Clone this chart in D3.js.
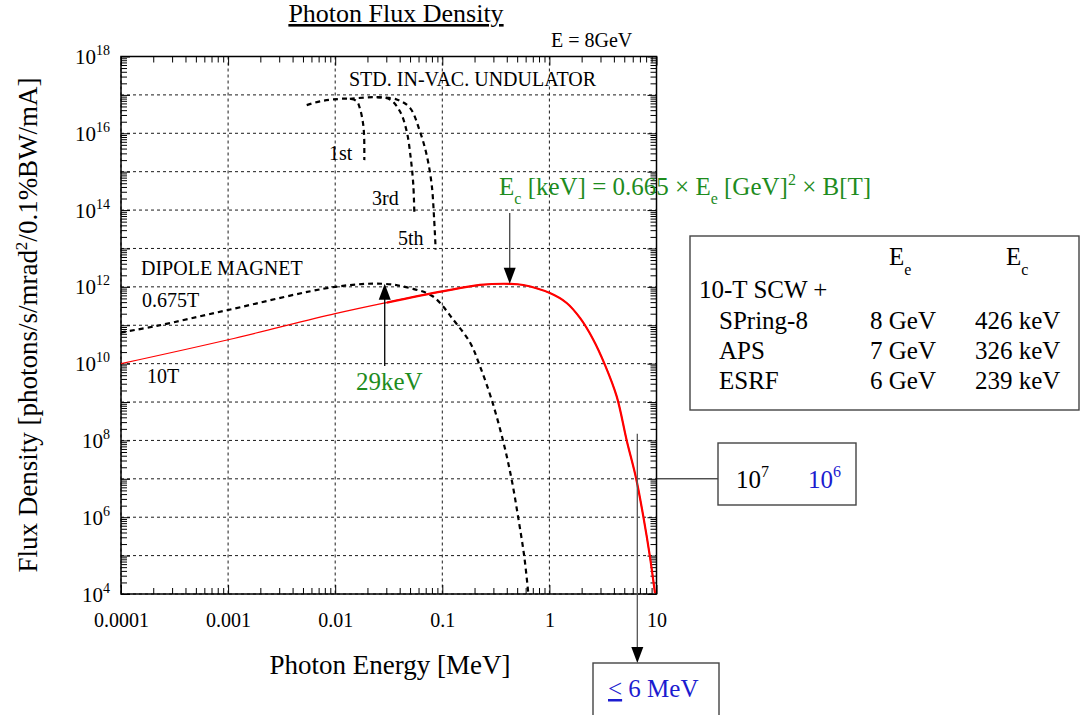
<!DOCTYPE html>
<html>
<head>
<meta charset="UTF-8">
<script src="https://d3js.org/d3.v7.min.js"></script>
<style>
  body { margin: 0; background: #fff; }
  text { font-family: "Liberation Serif", "Times New Roman", serif; }
</style>
</head>
<body>
<script>
    // photon energy [MeV] / flux density
    var scwEnergy = [0.0001, 0.001, 0.01, 0.0303, 0.1, 0.225, 0.428, 0.57, 1.01, 1.45, 1.93, 2.57, 3.30, 4.25, 5.27, 6.44, 7.53, 8.69, 9.68];
    var scwFlux = [1.0e10, 4.2e10, 2.0e11, 3.9e11, 7.6e11, 1.12e12, 1.2e12, 1.12e12, 6.9e11, 3.8e11, 1.55e11, 4.2e10, 9.3e9, 1.4e9, 1.0e8, 1.05e7, 1.05e6, 9.3e4, 1.05e4];

    var dipoleEnergy = [0.0001, 0.000215, 0.001, 0.01, 0.028, 0.05, 0.082, 0.127, 0.182, 0.225, 0.289, 0.371, 0.445, 0.513, 0.583, 0.635];
    var dipoleFlux = [6.5e10, 9.6e10, 2.5e11, 1.0e12, 1.2e12, 9.3e11, 5.6e11, 1.38e11, 3.5e10, 8.5e9, 1.15e9, 9.3e7, 9.3e6, 9.3e5, 9.3e4, 1.05e4];

    var und1Energy = [0.00542, 0.00721, 0.00959, 0.0137, 0.0159, 0.0171, 0.0181, 0.0186, 0.0187];
    var und1Flux = [5.4e16, 6.8e16, 7.6e16, 7.9e16, 6.8e16, 4.2e16, 2.0e16, 9.3e15, 2.0e15];
    var und3Energy = [0.0137, 0.0244, 0.0325, 0.0403, 0.0466, 0.0507, 0.0536, 0.0548];
    var und3Flux = [7.9e16, 8.7e16, 7.6e16, 3.7e16, 1.1e16, 2.3e15, 4.6e14, 8.3e13];
    var und5Energy = [0.0244, 0.0375, 0.0499, 0.0619, 0.0714, 0.0796, 0.0838, 0.0867];
    var und5Flux = [8.7e16, 7.6e16, 4.6e16, 1.1e16, 2.75e15, 4.6e14, 6.2e13, 9.3e12];

    var xTickValues = [0.0001, 0.001, 0.01, 0.1, 1, 10];
    var xTickLabels = ["0.0001", "0.001", "0.01", "0.1", "1", "10"];
    var yTickExps = [4, 6, 8, 10, 12, 14, 16, 18];

    var rings = ["SPring-8", "APS", "ESRF"];
    var ringEe = ["8 GeV", "7 GeV", "6 GeV"];
    var ringEc = ["426 keV", "326 keV", "239 keV"];

    var ecPeak = [0.426, 1.2e12];      // critical energy of 10T SCW
    var dipPeak = [0.029, 1.2e12];     // 29 keV
    var cutEnergy = 6.62;             // where 10T curve meets 1e7

    var width = 1082, height = 715;
    var pL = 121, pR = 656.5, pT = 56.5, pB = 594;
    var green = "#1e8c1e", blue = "#1c1cd0";

    var svg = d3.select("body").append("svg")
        .attr("width", width)
        .attr("height", height);

    var x = d3.scaleLog().domain([1e-4, 10]).range([pL, pR]);
    var y = d3.scaleLog().domain([1e4, 1e18]).range([pB, pT]);

    function logTicks(lo, hi) {
        var t = [];
        for (var d = lo; d < hi; d++)
            for (var m = 1; m < 10; m++) t.push(m * Math.pow(10, d));
        t.push(Math.pow(10, hi));
        return t;
    }
    function isMajor(d) {
        var l = Math.log10(d);
        return Math.abs(l - Math.round(l)) < 1e-9;
    }
    var xTicks = logTicks(-4, 1), yTicks = logTicks(4, 18);

    // grid
    var grid = svg.append("g").attr("stroke", "#000").attr("stroke-width", 0.9).attr("stroke-dasharray", "3,3");
    grid.selectAll(".gx").data(xTicks.filter(isMajor)).enter().append("line")
        .attr("x1", d => x(d)).attr("x2", d => x(d)).attr("y1", pT).attr("y2", pB);
    grid.selectAll(".gy").data(yTicks.filter(isMajor)).enter().append("line")
        .attr("y1", d => y(d)).attr("y2", d => y(d)).attr("x1", pL).attr("x2", pR);

    // axes, ticks pointing inward
    var gB = svg.append("g").attr("transform", "translate(0," + pB + ")")
        .call(d3.axisBottom(x).tickValues(xTicks).tickSizeInner(0).tickSizeOuter(0)
            .tickFormat(function (d) {
                var i = xTickValues.findIndex(v => Math.abs(v - d) / d < 1e-9);
                return i >= 0 ? xTickLabels[i] : "";
            }));
    gB.selectAll(".tick text").attr("y", 19).attr("font-size", 20).attr("fill", "#000");
    gB.selectAll(".tick line").attr("y2", d => isMajor(d) ? -9 : -6);

    var gT = svg.append("g").attr("transform", "translate(0," + pT + ")")
        .call(d3.axisTop(x).tickValues(xTicks).tickSizeInner(0).tickSizeOuter(0).tickFormat(""));
    gT.selectAll(".tick line").attr("y2", d => isMajor(d) ? 9 : 6);

    var gL = svg.append("g").attr("transform", "translate(" + pL + ",0)")
        .call(d3.axisLeft(y).tickValues(yTicks).tickSizeInner(0).tickSizeOuter(0).tickPadding(11).tickFormat(""));
    gL.selectAll(".tick line").attr("x2", d => isMajor(d) ? 9 : 6);
    gL.selectAll(".tick text").each(function (d) {
        var e = Math.round(Math.log10(d));
        var t = d3.select(this).attr("dy", 7).attr("font-size", 21).attr("fill", "#000");
        if (!isMajor(d) || yTickExps.indexOf(e) < 0) return;
        t.append("tspan").text("10");
        t.append("tspan").attr("dy", -9).attr("font-size", 14).text(e);
    });

    var gR = svg.append("g").attr("transform", "translate(" + pR + ",0)")
        .call(d3.axisRight(y).tickValues(yTicks).tickSizeInner(0).tickSizeOuter(0).tickFormat(""));
    gR.selectAll(".tick line").attr("x2", d => isMajor(d) ? -9 : -6);

    svg.selectAll(".domain").remove();
    svg.selectAll(".tick line").attr("stroke", "#000").attr("stroke-width", 1);

    svg.append("rect").attr("x", pL).attr("y", pT)
        .attr("width", pR - pL).attr("height", pB - pT)
        .attr("fill", "none").attr("stroke", "#000").attr("stroke-width", 1.5);

    // curves
    svg.append("clipPath").attr("id", "plot").append("rect")
        .attr("x", pL).attr("y", pT).attr("width", pR - pL).attr("height", pB - pT);
    var curves = svg.append("g").attr("clip-path", "url(#plot)");

    var line = d3.line().x(d => x(d[0])).y(d => y(d[1])).curve(d3.curveCatmullRom.alpha(0.5));
    function pairs(e, f) { return e.map((v, i) => [v, f[i]]); }

    [[und1Energy, und1Flux], [und3Energy, und3Flux], [und5Energy, und5Flux], [dipoleEnergy, dipoleFlux]]
        .forEach(function (s) {
            curves.append("path").attr("d", line(pairs(s[0], s[1])))
                .attr("fill", "none").attr("stroke", "#000").attr("stroke-width", 2.2)
                .attr("stroke-dasharray", "5,4");
        });

    var scw = pairs(scwEnergy, scwFlux);
    curves.append("path").attr("d", line(scw))
        .attr("fill", "none").attr("stroke", "#ff0000").attr("stroke-width", 1.2);
    curves.append("path").attr("d", line(scw.filter(d => d[0] >= 0.0303)))
        .attr("fill", "none").attr("stroke", "#ff0000").attr("stroke-width", 2.2);

    // titles
    svg.append("text").attr("x", 396).attr("y", 22).attr("text-anchor", "middle")
        .attr("font-size", 26).attr("text-decoration", "underline").text("Photon Flux Density");
    svg.append("text").attr("x", 551).attr("y", 47).attr("font-size", 20).text("E = 8GeV");
    svg.append("text").attr("x", 390).attr("y", 674).attr("text-anchor", "middle")
        .attr("font-size", 27).text("Photon Energy [MeV]");
    var yt = svg.append("text").attr("transform", "translate(37,325) rotate(-90)")
        .attr("text-anchor", "middle").attr("font-size", 27);
    yt.append("tspan").text("Flux Density [photons/s/mrad");
    yt.append("tspan").attr("dy", -10).attr("font-size", 17).text("2");
    yt.append("tspan").attr("dy", 10).text("/0.1%BW/mA]");

    // curve labels
    function label(tx, ty, s, size, col) {
        return svg.append("text").attr("x", tx).attr("y", ty).attr("font-size", size || 20)
            .attr("fill", col || "#000").text(s);
    }
    label(349, 86, "STD. IN-VAC. UNDULATOR");
    label(329, 160, "1st");
    label(372, 205, "3rd");
    label(398, 245, "5th");
    label(141, 275, "DIPOLE MAGNET");
    label(142, 307, "0.675T");
    label(147, 383, "10T");
    label(356, 390, "29keV", 25, green);

    // formula
    var fm = svg.append("text").attr("x", 499).attr("y", 195).attr("font-size", 25).attr("fill", green);
    fm.append("tspan").text("E");
    fm.append("tspan").attr("dy", 9).attr("font-size", 16).text("c");
    fm.append("tspan").attr("dy", -9).text(" [keV] = 0.665 \u00d7 E");
    fm.append("tspan").attr("dy", 9).attr("font-size", 16).text("e");
    fm.append("tspan").attr("dy", -9).text(" [GeV]");
    fm.append("tspan").attr("dy", -10).attr("font-size", 16).text("2");
    fm.append("tspan").attr("dy", 10).text(" \u00d7 B[T]");

    // arrows
    function arrow(x0, y0, x1, y1, col) {
        var dir = y1 > y0 ? 1 : -1;
        svg.append("line").attr("x1", x0).attr("y1", y0).attr("x2", x1).attr("y2", y1 - dir * 4)
            .attr("stroke", col).attr("stroke-width", 1.3);
        svg.append("path")
            .attr("d", "M" + x1 + "," + y1 + "L" + (x1 - 6) + "," + (y1 - dir * 16) + "L" + (x1 + 6) + "," + (y1 - dir * 16) + "Z")
            .attr("fill", "#000");
    }
    arrow(x(ecPeak[0]), 213, x(ecPeak[0]), y(ecPeak[1]), "#444");
    arrow(x(dipPeak[0]), 366, x(dipPeak[0]), y(dipPeak[1]), "#000");
    arrow(x(cutEnergy), y(1.5e8), x(cutEnergy), 663, "#555");

    // connector to 1e7 box
    svg.append("line").attr("x1", pR).attr("x2", 718).attr("y1", y(1e7)).attr("y2", y(1e7))
        .attr("stroke", "#000").attr("stroke-width", 1);

    // boxes
    function box(bx, by, bw, bh) {
        svg.append("rect").attr("x", bx).attr("y", by).attr("width", bw).attr("height", bh)
            .attr("fill", "#fff").attr("stroke", "#444").attr("stroke-width", 1.4);
    }
    box(690, 236, 389, 174);
    box(718, 443, 138, 62);
    box(593, 663, 126, 60);

    // table
    function sub(tx, ty, base, s) {
        var t = svg.append("text").attr("x", tx).attr("y", ty).attr("font-size", 25);
        t.append("tspan").text(base);
        t.append("tspan").attr("dy", 10).attr("font-size", 16).text(s);
    }
    sub(889, 265, "E", "e");
    sub(1006, 265, "E", "c");
    label(699, 298, "10-T SCW +", 25);
    rings.forEach(function (r, i) {
        label(719, 329 + i * 30, r, 25);
        label(870, 329 + i * 30, ringEe[i], 25);
        label(975, 329 + i * 30, ringEc[i], 25);
    });

    var b1 = svg.append("text").attr("x", 736).attr("y", 488).attr("font-size", 25);
    b1.append("tspan").text("10");
    b1.append("tspan").attr("dy", -11).attr("font-size", 16).text("7");
    var b2 = svg.append("text").attr("x", 808).attr("y", 488).attr("font-size", 25).attr("fill", blue);
    b2.append("tspan").text("10");
    b2.append("tspan").attr("dy", -11).attr("font-size", 16).text("6");

    var le = svg.append("text").attr("x", 608).attr("y", 697).attr("font-size", 25).attr("fill", blue);
    le.append("tspan").attr("text-decoration", "underline").text("<");
    le.append("tspan").text(" 6 MeV");
</script>
</body>
</html>
